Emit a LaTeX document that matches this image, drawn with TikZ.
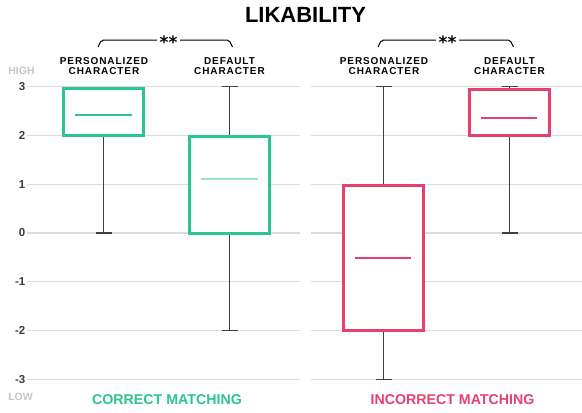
\documentclass[tikz,border=0pt]{standalone}
\usepackage{fontspec}
\setmainfont{Liberation Sans}
\newfontfamily\starfont{DejaVu Sans}
\definecolor{cgreen}{HTML}{2BC497}
\definecolor{cpink}{HTML}{E6406F}
\definecolor{lgreen}{HTML}{9FE3CB}
\definecolor{gridc}{HTML}{DCDCDC}
\definecolor{whisk}{HTML}{404040}
\definecolor{axnum}{HTML}{3C3C3C}
\definecolor{axlab}{HTML}{C6C6C6}
\newcommand\valy[1]{233-48.8*(#1)}
\begin{document}
\begin{tikzpicture}[x=1pt,y=-1pt,
  gridline/.style={gridc, line width=1.3pt},
  whisker/.style={whisk, line width=1.4pt},
  gbox/.style={draw=cgreen, line width=3pt, fill=white},
  pbox/.style={draw=cpink, line width=3pt, fill=white},
  gmed/.style={cgreen, line width=1.4pt},
  lgmed/.style={lgreen, line width=1.6pt},
  pmed/.style={cpink, line width=1.4pt},
  catlabel/.style={font=\bfseries\fontsize{10}{10}\selectfont\addfontfeature{LetterSpace=9}, align=center, inner sep=0pt},
  axnumber/.style={font=\bfseries\fontsize{11.5}{12}\selectfont, text=axnum, anchor=east, inner sep=0pt},
  axword/.style={font=\bfseries\fontsize{10.5}{11}\selectfont, text=axlab, inner sep=0pt},
  bracketline/.style={black, line width=1pt, rounded corners=2pt},
  stars/.style={font=\starfont\bfseries\fontsize{17}{17}\selectfont, inner sep=0pt},
  groupname/.style={font=\bfseries\fontsize{14.2}{15}\selectfont, inner sep=0pt}
]
\useasboundingbox (0,0) rectangle (582,413);
\fill[white] (0,0) rectangle (582,413);

% grid lines
\foreach \v in {-3,...,3}{
  \draw[gridline] (27,{\valy{\v}}) -- (300,{\valy{\v}});
  \draw[gridline] (311,{\valy{\v}}) -- (582,{\valy{\v}});
  \node[axnumber] (num\v) at (25.5,{\valy{\v}}) {\v};
}
\node[axword] (high) at (21.5,71) {HIGH};
\node[axword] (low) at (20.5,397) {LOW};

% title
\node[font=\bfseries\fontsize{22}{22}\selectfont, inner sep=0pt] (title) at (305.5,15) {LIKABILITY};

% brackets
\node[stars] (st1) at (168.5,42.5) {**};
\draw[bracketline] (98,47) -- (101.5,40) -- (157,40);
\draw[bracketline] (180,40) -- (229,40) -- (232.5,47);
\node[stars] (st2) at (447.5,42.5) {**};
\draw[bracketline] (378,47) -- (381.5,40) -- (436,40);
\draw[bracketline] (459,40) -- (510,40) -- (513.5,47);

% category labels
\node[catlabel] (lp) at (104,66) {PERSONALIZED\\CHARACTER};
\node[catlabel] (ld) at (229.5,66) {DEFAULT\\CHARACTER};
\node[catlabel] (rp) at (384,66) {PERSONALIZED\\CHARACTER};
\node[catlabel] (rd) at (509.5,66) {DEFAULT\\CHARACTER};

% Left personalized
\draw[whisker] (103.5,{\valy{2}}) -- (103.5,{\valy{0}});
\draw[whisker] (95.5,{\valy{0}}) -- (111.5,{\valy{0}});
\draw[gbox] (63.5,{\valy{2}}) rectangle (143.5,{\valy{2.97}});
\draw[gmed] (75,{\valy{2.42}}) -- (132,{\valy{2.42}});

% Left default
\draw[whisker] (229.5,{\valy{3}}) -- (229.5,{\valy{-2}});
\draw[whisker] (221.5,{\valy{3}}) -- (237.5,{\valy{3}});
\draw[whisker] (221.5,{\valy{-2}}) -- (237.5,{\valy{-2}});
\draw[gbox] (189.5,{\valy{0}}) rectangle (269.5,{\valy{1.97}});
\draw[lgmed] (201,{\valy{1.11}}) -- (258,{\valy{1.11}});

% Right personalized
\draw[whisker] (383.5,{\valy{3}}) -- (383.5,{\valy{-3}});
\draw[whisker] (375.5,{\valy{3}}) -- (391.5,{\valy{3}});
\draw[whisker] (375.5,{\valy{-3}}) -- (391.5,{\valy{-3}});
\draw[pbox] (343.5,{\valy{-2}}) rectangle (423.5,{\valy{0.97}});
\draw[pmed] (355,{\valy{-0.51}}) -- (411,{\valy{-0.51}});

% Right default
\draw[whisker] (509.5,{\valy{3}}) -- (509.5,{\valy{0}});
\draw[whisker] (501.5,{\valy{3}}) -- (517.5,{\valy{3}});
\draw[whisker] (501.5,{\valy{0}}) -- (517.5,{\valy{0}});
\draw[pbox] (469.5,{\valy{2}}) rectangle (549.5,{\valy{2.94}});
\draw[pmed] (481,{\valy{2.36}}) -- (537,{\valy{2.36}});

% group names
\node[groupname, text=cgreen] (gcorrect) at (167,400) {CORRECT MATCHING};
\node[groupname, text=cpink] (gincorrect) at (452.5,400) {INCORRECT MATCHING};
\end{tikzpicture}
\end{document}
